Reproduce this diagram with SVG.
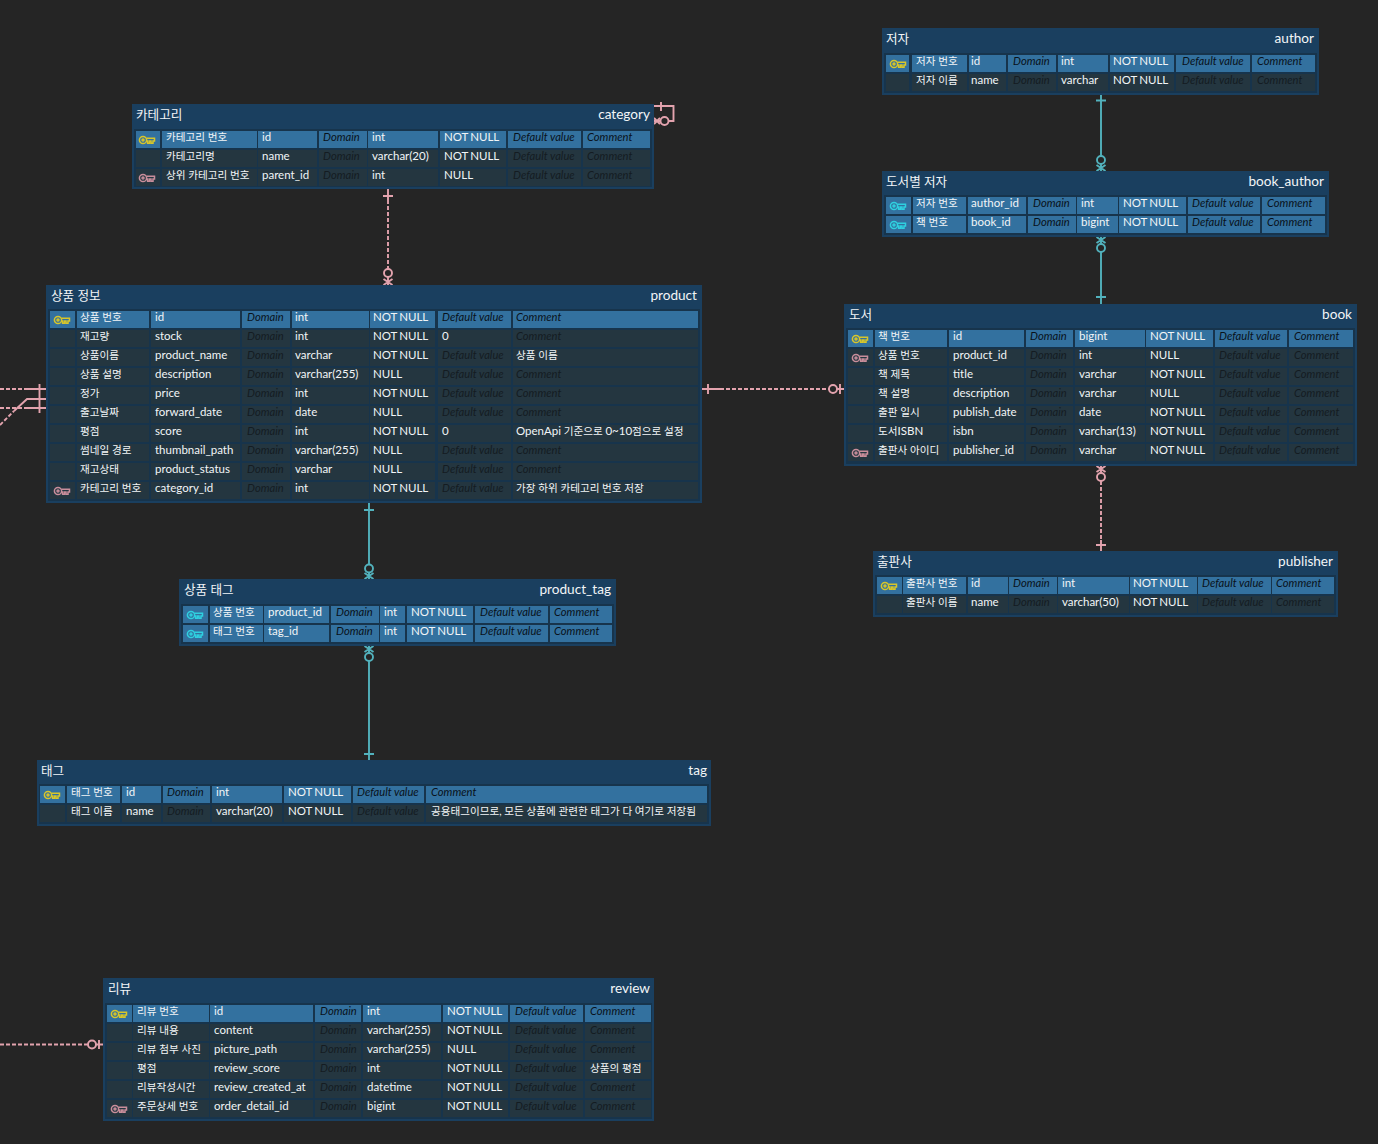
<svg xmlns="http://www.w3.org/2000/svg" width="1378" height="1144" viewBox="0 0 1378 1144">
<style>
text{font-family:"Lato","Noto Sans CJK KR",sans-serif;font-size:11.5px;fill:#f2f5f7;word-spacing:-.8px}
.title{font-size:12.6px;word-spacing:0;transform:translateY(.8px)}
.r{text-anchor:end;font-size:13.6px;transform:none}
.k{font-size:10.6px;word-spacing:0}
.k tspan{font-size:11.5px}
.d{font-style:italic;font-size:11.2px;word-spacing:0}
.pk .d{fill:#09121a}
.n .d{fill:#141c22}
.tb{fill:#1a3f5f}
.in{fill:#17344c}
.cp{fill:#33719f}
.cn{fill:#243640}
.line{fill:none;stroke-width:1.9}
.dash{stroke-dasharray:4 2}
.pl{stroke:#e3a3ae}
.te{stroke:#52b2bd}
.key{fill:none;stroke-width:1.5}
</style>
<defs>
<g id="key"><circle cx="4" cy="0" r="3.6"/><circle cx="4" cy="0" r="1"/><path d="M7.4-1.8H15.5V1H14V3.200H12V1H10.400V3.200H8.600V1H7.400"/></g>
<g id="r-cat"><rect x="136" width="24" height="17"/><rect x="162" width="95" height="17"/><rect x="258" width="59" height="17"/><rect x="319" width="48" height="17"/><rect x="368" width="70" height="17"/><rect x="440" width="66" height="17"/><rect x="508" width="73" height="17"/><rect x="583" width="67" height="17"/></g>
<g id="r-pro"><rect x="50" width="25" height="17"/><rect x="77" width="72" height="17"/><rect x="151" width="89" height="17"/><rect x="242" width="48" height="17"/><rect x="292" width="77" height="17"/><rect x="370" width="65" height="17"/><rect x="438" width="73" height="17"/><rect x="513" width="185" height="17"/></g>
<g id="r-aut"><rect x="886" width="23" height="17"/><rect x="912" width="55" height="17"/><rect x="969" width="37" height="17"/><rect x="1008" width="48" height="17"/><rect x="1058" width="50" height="17"/><rect x="1110" width="64" height="17"/><rect x="1176" width="74" height="17"/><rect x="1252" width="63" height="17"/></g>
<g id="r-ba"><rect x="886" width="25" height="17"/><rect x="913" width="53" height="17"/><rect x="968" width="58" height="17"/><rect x="1028" width="48" height="17"/><rect x="1077" width="41" height="17"/><rect x="1119" width="67" height="17"/><rect x="1188" width="72" height="17"/><rect x="1262" width="63" height="17"/></g>
<g id="r-boo"><rect x="848" width="25" height="17"/><rect x="875" width="72" height="17"/><rect x="949" width="75" height="17"/><rect x="1026" width="47" height="17"/><rect x="1075" width="70" height="17"/><rect x="1146" width="67" height="17"/><rect x="1215" width="72" height="17"/><rect x="1289" width="64" height="17"/></g>
<g id="r-pub"><rect x="877" width="25" height="17"/><rect x="903" width="63" height="17"/><rect x="968" width="40" height="17"/><rect x="1009" width="48" height="17"/><rect x="1058" width="71" height="17"/><rect x="1130" width="67" height="17"/><rect x="1198" width="73" height="17"/><rect x="1272" width="62" height="17"/></g>
<g id="r-pt"><rect x="183" width="25" height="17"/><rect x="210" width="53" height="17"/><rect x="264" width="65" height="17"/><rect x="331" width="48" height="17"/><rect x="380" width="25" height="17"/><rect x="407" width="66" height="17"/><rect x="475" width="73" height="17"/><rect x="550" width="62" height="17"/></g>
<g id="r-tag"><rect x="40" width="25" height="17"/><rect x="67" width="53" height="17"/><rect x="122" width="39" height="17"/><rect x="163" width="47" height="17"/><rect x="212" width="70" height="17"/><rect x="284" width="67" height="17"/><rect x="353" width="71" height="17"/><rect x="426" width="281" height="17"/></g>
<g id="r-rev"><rect x="107" width="25" height="17"/><rect x="133" width="76" height="17"/><rect x="210" width="103" height="17"/><rect x="315" width="46" height="17"/><rect x="363" width="78" height="17"/><rect x="443" width="65" height="17"/><rect x="510" width="73" height="17"/><rect x="585" width="66" height="17"/></g>
</defs>
<rect width="1378" height="1144" fill="#252525"/>
<g id="connectors">
<path class="line dash pl" d="M388 200V269"/><path class="line pl" d="M388 189V200M383 196H393M388 277V285M383.500 279L392.500 285M392.500 279L383.500 285"/><circle class="line pl" cx="388" cy="273" r="4"/>
<path class="line pl" d="M654 106H673.500V121H669M661 102V111M654 121H660M654 118L660 124M654 124L660 118"/><circle class="line pl" cx="664.500" cy="121" r="4"/>
<path class="line dash pl" d="M0 389H27M0 408H27M0 425L14 411"/><path class="line pl" d="M14 411L27 399H46M27 389H46M27 408H46M39.500 384V413"/>
<path class="line dash pl" d="M720 389H829"/><path class="line pl" d="M701 389H720M708 384V394M837 389H844M840 384V394"/><circle class="line pl" cx="833" cy="389" r="4"/>
<path class="line te" d="M1101 95V156M1096 100.500H1106M1101 164V171M1096.500 165L1105.500 171M1105.500 165L1096.500 171"/><circle class="line te" cx="1101" cy="160" r="4"/>
<path class="line te" d="M1101 252V304M1096 297H1106M1101 237V244M1096.500 237L1105.500 243M1105.500 237L1096.500 243"/><circle class="line te" cx="1101" cy="248" r="4"/>
<path class="line dash pl" d="M1101 481V540"/><path class="line pl" d="M1101 540V551M1096 545H1106M1101 466V473M1096.500 466L1105.500 472M1105.500 466L1096.500 472"/><circle class="line pl" cx="1101" cy="477" r="4"/>
<path class="line te" d="M369 503V564M364 510H374M369 573V579M364.500 573L373.500 579M373.500 573L364.500 579"/><circle class="line te" cx="369" cy="568.500" r="4"/>
<path class="line te" d="M369 661V760M364 754H374M369 646V653M364.500 646L373.500 652M373.500 646L364.500 652"/><circle class="line te" cx="369" cy="657" r="4"/>
<path class="line dash pl" d="M0 1044.500H88"/><path class="line pl" d="M96 1044.500H103M99 1040V1049"/><circle class="line pl" cx="92" cy="1044.500" r="4"/>
</g>

<g id="category">
<rect class="tb" x="132" y="104" width="522" height="85"/><rect class="in" x="134" y="129" width="518" height="58"/>
<text class="title" x="136" y="118">카테고리</text><text class="title r" x="650" y="119">category</text>
<use href="#r-cat" class="cp" y="131"/><use href="#r-cat" class="cn" y="150"/><use href="#r-cat" class="cn" y="169"/>
<use href="#key" x="139" y="140" class="key" stroke="#d8c62a"/><use href="#key" x="139" y="178" class="key" stroke="#c98e9b"/>
<g class="pk" transform="translate(0,141)"><text class="k" x="166" y="-.4">카테고리 번호</text><text x="262">id</text><text class="d" x="323">Domain</text><text x="372">int</text><text x="444">NOT NULL</text><text class="d" x="513">Default value</text><text class="d" x="587">Comment</text></g>
<g class="n" transform="translate(0,160)"><text class="k" x="166" y="-.4">카테고리명</text><text x="262">name</text><text class="d" x="323">Domain</text><text x="372">varchar(20)</text><text x="444">NOT NULL</text><text class="d" x="513">Default value</text><text class="d" x="587">Comment</text></g>
<g class="n" transform="translate(0,179)"><text class="k" x="166" y="-.4">상위 카테고리 번호</text><text x="262">parent_id</text><text class="d" x="323">Domain</text><text x="372">int</text><text x="444">NULL</text><text class="d" x="513">Default value</text><text class="d" x="587">Comment</text></g>
</g>

<g id="product">
<rect class="tb" x="46" y="285" width="656" height="218"/><rect class="in" x="48" y="309" width="652" height="192"/>
<text class="title" x="51" y="299">상품 정보</text><text class="title r" x="697" y="300">product</text>
<use href="#r-pro" class="cp" y="311"/><use href="#r-pro" class="cn" y="330"/><use href="#r-pro" class="cn" y="349"/><use href="#r-pro" class="cn" y="368"/><use href="#r-pro" class="cn" y="387"/><use href="#r-pro" class="cn" y="406"/><use href="#r-pro" class="cn" y="425"/><use href="#r-pro" class="cn" y="444"/><use href="#r-pro" class="cn" y="463"/><use href="#r-pro" class="cn" y="482"/>
<use href="#key" x="54" y="320" class="key" stroke="#d8c62a"/><use href="#key" x="54" y="491" class="key" stroke="#c98e9b"/>
<g class="pk" transform="translate(0,321)"><text class="k" x="80" y="-.4">상품 번호</text><text x="155">id</text><text class="d" x="247">Domain</text><text x="295">int</text><text x="373">NOT NULL</text><text class="d" x="442">Default value</text><text class="d" x="516">Comment</text></g>
<g class="n" transform="translate(0,340)"><text class="k" x="80" y="-.4">재고량</text><text x="155">stock</text><text class="d" x="247">Domain</text><text x="295">int</text><text x="373">NOT NULL</text><text x="442">0</text><text class="d" x="516">Comment</text></g>
<g class="n" transform="translate(0,359)"><text class="k" x="80" y="-.4">상품이름</text><text x="155">product_name</text><text class="d" x="247">Domain</text><text x="295">varchar</text><text x="373">NOT NULL</text><text class="d" x="442">Default value</text><text class="k" x="516" y="-.4">상품 이름</text></g>
<g class="n" transform="translate(0,378)"><text class="k" x="80" y="-.4">상품 설명</text><text x="155">description</text><text class="d" x="247">Domain</text><text x="295">varchar(255)</text><text x="373">NULL</text><text class="d" x="442">Default value</text><text class="d" x="516">Comment</text></g>
<g class="n" transform="translate(0,397)"><text class="k" x="80" y="-.4">정가</text><text x="155">price</text><text class="d" x="247">Domain</text><text x="295">int</text><text x="373">NOT NULL</text><text class="d" x="442">Default value</text><text class="d" x="516">Comment</text></g>
<g class="n" transform="translate(0,416)"><text class="k" x="80" y="-.4">출고날짜</text><text x="155">forward_date</text><text class="d" x="247">Domain</text><text x="295">date</text><text x="373">NULL</text><text class="d" x="442">Default value</text><text class="d" x="516">Comment</text></g>
<g class="n" transform="translate(0,435)"><text class="k" x="80" y="-.4">평점</text><text x="155">score</text><text class="d" x="247">Domain</text><text x="295">int</text><text x="373">NOT NULL</text><text x="442">0</text><text class="k" x="516"><tspan>OpenApi</tspan> 기준으로 <tspan>0~10</tspan>점으로 설정</text></g>
<g class="n" transform="translate(0,454)"><text class="k" x="80" y="-.4">썸네일 경로</text><text x="155">thumbnail_path</text><text class="d" x="247">Domain</text><text x="295">varchar(255)</text><text x="373">NULL</text><text class="d" x="442">Default value</text><text class="d" x="516">Comment</text></g>
<g class="n" transform="translate(0,473)"><text class="k" x="80" y="-.4">재고상태</text><text x="155">product_status</text><text class="d" x="247">Domain</text><text x="295">varchar</text><text x="373">NULL</text><text class="d" x="442">Default value</text><text class="d" x="516">Comment</text></g>
<g class="n" transform="translate(0,492)"><text class="k" x="80" y="-.4">카테고리 번호</text><text x="155">category_id</text><text class="d" x="247">Domain</text><text x="295">int</text><text x="373">NOT NULL</text><text class="d" x="442">Default value</text><text class="k" x="516" y="-.4">가장 하위 카테고리 번호 저장</text></g>
</g>

<g id="author">
<rect class="tb" x="882" y="28" width="437" height="67"/><rect class="in" x="884" y="53" width="433" height="40"/>
<text class="title" x="886" y="42">저자</text><text class="title r" x="1314" y="43">author</text>
<use href="#r-aut" class="cp" y="55"/><use href="#r-aut" class="cn" y="74"/>
<use href="#key" x="890" y="64" class="key" stroke="#d8c62a"/>
<g class="pk" transform="translate(0,65)"><text class="k" x="916" y="-.4">저자 번호</text><text x="971">id</text><text class="d" x="1013">Domain</text><text x="1061">int</text><text x="1113">NOT NULL</text><text class="d" x="1182">Default value</text><text class="d" x="1257">Comment</text></g>
<g class="n" transform="translate(0,84)"><text class="k" x="916" y="-.4">저자 이름</text><text x="971">name</text><text class="d" x="1013">Domain</text><text x="1061">varchar</text><text x="1113">NOT NULL</text><text class="d" x="1182">Default value</text><text class="d" x="1257">Comment</text></g>
</g>

<g id="book_author">
<rect class="tb" x="882" y="171" width="447" height="66"/><rect class="in" x="884" y="195" width="443" height="40"/>
<text class="title" x="886" y="185">도서별 저자</text><text class="title r" x="1324" y="186">book_author</text>
<use href="#r-ba" class="cp" y="197"/><use href="#r-ba" class="cp" y="216"/>
<use href="#key" x="890" y="206" class="key" stroke="#2fd0e0"/><use href="#key" x="890" y="225" class="key" stroke="#2fd0e0"/>
<g class="pk" transform="translate(0,207)"><text class="k" x="916" y="-.4">저자 번호</text><text x="971">author_id</text><text class="d" x="1033">Domain</text><text x="1081">int</text><text x="1123">NOT NULL</text><text class="d" x="1192">Default value</text><text class="d" x="1267">Comment</text></g>
<g class="pk" transform="translate(0,226)"><text class="k" x="916" y="-.4">책 번호</text><text x="971">book_id</text><text class="d" x="1033">Domain</text><text x="1081">bigint</text><text x="1123">NOT NULL</text><text class="d" x="1192">Default value</text><text class="d" x="1267">Comment</text></g>
</g>

<g id="book">
<rect class="tb" x="844" y="304" width="513" height="162"/><rect class="in" x="846" y="328" width="509" height="136"/>
<text class="title" x="849" y="318">도서</text><text class="title r" x="1352" y="319">book</text>
<use href="#r-boo" class="cp" y="330"/><use href="#r-boo" class="cn" y="349"/><use href="#r-boo" class="cn" y="368"/><use href="#r-boo" class="cn" y="387"/><use href="#r-boo" class="cn" y="406"/><use href="#r-boo" class="cn" y="425"/><use href="#r-boo" class="cn" y="444"/>
<use href="#key" x="852" y="339" class="key" stroke="#d8c62a"/><use href="#key" x="852" y="358" class="key" stroke="#c98e9b"/><use href="#key" x="852" y="453" class="key" stroke="#c98e9b"/>
<g class="pk" transform="translate(0,340)"><text class="k" x="878" y="-.4">책 번호</text><text x="953">id</text><text class="d" x="1030">Domain</text><text x="1079">bigint</text><text x="1150">NOT NULL</text><text class="d" x="1219">Default value</text><text class="d" x="1294">Comment</text></g>
<g class="n" transform="translate(0,359)"><text class="k" x="878" y="-.4">상품 번호</text><text x="953">product_id</text><text class="d" x="1030">Domain</text><text x="1079">int</text><text x="1150">NULL</text><text class="d" x="1219">Default value</text><text class="d" x="1294">Comment</text></g>
<g class="n" transform="translate(0,378)"><text class="k" x="878" y="-.4">책 제목</text><text x="953">title</text><text class="d" x="1030">Domain</text><text x="1079">varchar</text><text x="1150">NOT NULL</text><text class="d" x="1219">Default value</text><text class="d" x="1294">Comment</text></g>
<g class="n" transform="translate(0,397)"><text class="k" x="878" y="-.4">책 설명</text><text x="953">description</text><text class="d" x="1030">Domain</text><text x="1079">varchar</text><text x="1150">NULL</text><text class="d" x="1219">Default value</text><text class="d" x="1294">Comment</text></g>
<g class="n" transform="translate(0,416)"><text class="k" x="878" y="-.4">출판 일시</text><text x="953">publish_date</text><text class="d" x="1030">Domain</text><text x="1079">date</text><text x="1150">NOT NULL</text><text class="d" x="1219">Default value</text><text class="d" x="1294">Comment</text></g>
<g class="n" transform="translate(0,435)"><text class="k" x="878" y="-.4">도서<tspan>ISBN</tspan></text><text x="953">isbn</text><text class="d" x="1030">Domain</text><text x="1079">varchar(13)</text><text x="1150">NOT NULL</text><text class="d" x="1219">Default value</text><text class="d" x="1294">Comment</text></g>
<g class="n" transform="translate(0,454)"><text class="k" x="878" y="-.4">출판사 아이디</text><text x="953">publisher_id</text><text class="d" x="1030">Domain</text><text x="1079">varchar</text><text x="1150">NOT NULL</text><text class="d" x="1219">Default value</text><text class="d" x="1294">Comment</text></g>
</g>

<g id="publisher">
<rect class="tb" x="873" y="551" width="465" height="66"/><rect class="in" x="875" y="575" width="461" height="40"/>
<text class="title" x="877" y="565">출판사</text><text class="title r" x="1333" y="566">publisher</text>
<use href="#r-pub" class="cp" y="577"/><use href="#r-pub" class="cn" y="596"/>
<use href="#key" x="881" y="586" class="key" stroke="#d8c62a"/>
<g class="pk" transform="translate(0,587)"><text class="k" x="906" y="-.4">출판사 번호</text><text x="971">id</text><text class="d" x="1013">Domain</text><text x="1062">int</text><text x="1133">NOT NULL</text><text class="d" x="1202">Default value</text><text class="d" x="1276">Comment</text></g>
<g class="n" transform="translate(0,606)"><text class="k" x="906" y="-.4">출판사 이름</text><text x="971">name</text><text class="d" x="1013">Domain</text><text x="1062">varchar(50)</text><text x="1133">NOT NULL</text><text class="d" x="1202">Default value</text><text class="d" x="1276">Comment</text></g>
</g>

<g id="product_tag">
<rect class="tb" x="179" y="579" width="437" height="67"/><rect class="in" x="181" y="604" width="433" height="40"/>
<text class="title" x="184" y="593">상품 태그</text><text class="title r" x="611" y="594">product_tag</text>
<use href="#r-pt" class="cp" y="606"/><use href="#r-pt" class="cp" y="625"/>
<use href="#key" x="187" y="615" class="key" stroke="#2fd0e0"/><use href="#key" x="187" y="634" class="key" stroke="#2fd0e0"/>
<g class="pk" transform="translate(0,616)"><text class="k" x="213" y="-.4">상품 번호</text><text x="268">product_id</text><text class="d" x="336">Domain</text><text x="384">int</text><text x="411">NOT NULL</text><text class="d" x="480">Default value</text><text class="d" x="554">Comment</text></g>
<g class="pk" transform="translate(0,635)"><text class="k" x="213" y="-.4">태그 번호</text><text x="268">tag_id</text><text class="d" x="336">Domain</text><text x="384">int</text><text x="411">NOT NULL</text><text class="d" x="480">Default value</text><text class="d" x="554">Comment</text></g>
</g>

<g id="tag">
<rect class="tb" x="37" y="760" width="674" height="66"/><rect class="in" x="39" y="784" width="670" height="40"/>
<text class="title" x="41" y="774">태그</text><text class="title r" x="707" y="775">tag</text>
<use href="#r-tag" class="cp" y="786"/><use href="#r-tag" class="cn" y="805"/>
<use href="#key" x="44" y="795" class="key" stroke="#d8c62a"/>
<g class="pk" transform="translate(0,796)"><text class="k" x="71" y="-.4">태그 번호</text><text x="126">id</text><text class="d" x="167">Domain</text><text x="216">int</text><text x="288">NOT NULL</text><text class="d" x="357">Default value</text><text class="d" x="431">Comment</text></g>
<g class="n" transform="translate(0,815)"><text class="k" x="71" y="-.4">태그 이름</text><text x="126">name</text><text class="d" x="167">Domain</text><text x="216">varchar(20)</text><text x="288">NOT NULL</text><text class="d" x="357">Default value</text><text class="k" x="431" y="-.4">공용태그이므로, 모든 상품에 관련한 태그가 다 여기로 저장됨</text></g>
</g>

<g id="review">
<rect class="tb" x="103" y="978" width="551" height="143"/><rect class="in" x="105" y="1003" width="547" height="116"/>
<text class="title" x="108" y="992">리뷰</text><text class="title r" x="650" y="993">review</text>
<use href="#r-rev" class="cp" y="1005"/><use href="#r-rev" class="cn" y="1024"/><use href="#r-rev" class="cn" y="1043"/><use href="#r-rev" class="cn" y="1062"/><use href="#r-rev" class="cn" y="1081"/><use href="#r-rev" class="cn" y="1100"/>
<use href="#key" x="111" y="1014" class="key" stroke="#d8c62a"/><use href="#key" x="111" y="1109" class="key" stroke="#c98e9b"/>
<g class="pk" transform="translate(0,1015)"><text class="k" x="137" y="-.4">리뷰 번호</text><text x="214">id</text><text class="d" x="320">Domain</text><text x="367">int</text><text x="447">NOT NULL</text><text class="d" x="515">Default value</text><text class="d" x="590">Comment</text></g>
<g class="n" transform="translate(0,1034)"><text class="k" x="137" y="-.4">리뷰 내용</text><text x="214">content</text><text class="d" x="320">Domain</text><text x="367">varchar(255)</text><text x="447">NOT NULL</text><text class="d" x="515">Default value</text><text class="d" x="590">Comment</text></g>
<g class="n" transform="translate(0,1053)"><text class="k" x="137" y="-.4">리뷰 첨부 사진</text><text x="214">picture_path</text><text class="d" x="320">Domain</text><text x="367">varchar(255)</text><text x="447">NULL</text><text class="d" x="515">Default value</text><text class="d" x="590">Comment</text></g>
<g class="n" transform="translate(0,1072)"><text class="k" x="137" y="-.4">평점</text><text x="214">review_score</text><text class="d" x="320">Domain</text><text x="367">int</text><text x="447">NOT NULL</text><text class="d" x="515">Default value</text><text class="k" x="590" y="-.4">상품의 평점</text></g>
<g class="n" transform="translate(0,1091)"><text class="k" x="137" y="-.4">리뷰작성시간</text><text x="214">review_created_at</text><text class="d" x="320">Domain</text><text x="367">datetime</text><text x="447">NOT NULL</text><text class="d" x="515">Default value</text><text class="d" x="590">Comment</text></g>
<g class="n" transform="translate(0,1110)"><text class="k" x="137" y="-.4">주문상세 번호</text><text x="214">order_detail_id</text><text class="d" x="320">Domain</text><text x="367">bigint</text><text x="447">NOT NULL</text><text class="d" x="515">Default value</text><text class="d" x="590">Comment</text></g>
</g>
</svg>
